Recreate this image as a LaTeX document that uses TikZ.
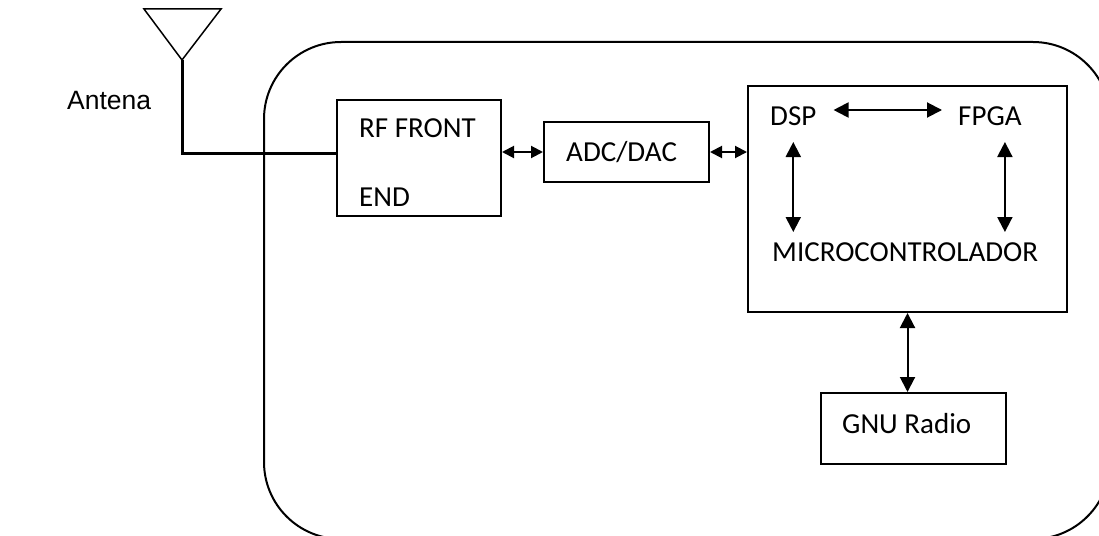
\documentclass[tikz,border=0pt]{standalone}
\usepackage{fontspec}
\setmainfont{Carlito}
\newfontfamily\arialfont{Liberation Sans}
\usetikzlibrary{arrows.meta}
\tikzset{
  box/.style={draw, line width=2pt, inner sep=0pt},
  lbl/.style={inner sep=0pt, anchor=base west, font=\fontsize{29}{33}\selectfont},
  dbl/.style={line width=2pt, {Triangle[length=15pt,width=15pt]}-{Triangle[length=15pt,width=15pt]}},
  sdbl/.style={line width=2pt, {Triangle[length=12pt,width=12pt]}-{Triangle[length=12pt,width=12pt]}},
}
\begin{document}
\begin{tikzpicture}[x=1pt,y=-1pt]
\useasboundingbox (0,0) rectangle (1099,535);
\clip (0,0) rectangle (1099,535);
% outer rounded frame
\draw[line width=2pt, rounded corners=77pt] (264,42) rectangle (1110,539);
% antenna
\coordinate (tl) at (144,9);
\coordinate (tr) at (221,9);
\coordinate (apex) at (182,60);
\draw[line width=1.5pt, line join=miter] (tl) -- (tr) -- (apex) -- cycle;
\node[lbl, font=\arialfont\fontsize{26.5}{30}\selectfont] (antena) at (67,109) {Antena};
% boxes
\node[box, minimum width=164pt, minimum height=116pt] (rf) at (419,158) {};
\node[box, minimum width=165pt, minimum height=60pt] (adc) at (626.5,152) {};
\node[box, minimum width=319pt, minimum height=226pt] (proc) at (907.5,199) {};
\node[box, minimum width=185pt, minimum height=71pt] (gnu) at (913.5,428.5) {};
% texts
\node[lbl] (rf1) at (359,137) {RF FRONT};
\node[lbl] (rf2) at (359,206) {END};
\node[lbl] (adct) at (566,161) {ADC/DAC};
\node[lbl] (dsp) at (770,125) {DSP};
\node[lbl] (fpga) at (958,125) {FPGA};
\node[lbl] (micro) at (772,261) {MICROCONTROLADOR};
\node[lbl] (gnut) at (842,433) {GNU Radio};
% antenna stem
\draw[line width=3pt] (apex) |- ([yshift=5pt]rf.west);
% connectors
\draw[sdbl] (adc.west -| rf.east) -- (adc.west);
\draw[sdbl] (adc.east) -- (adc.east -| proc.west);
\draw[dbl] (proc.south) -- (proc.south |- gnu.north);
\draw[dbl] ([shift={(17,-15)}]dsp.base east) -- ([shift={(-16,-15)}]fpga.base west);
\draw[dbl] ([shift={(0,17)}]dsp.base) -- ([shift={(0,-29)}]dsp.base |- micro.base);
\draw[dbl] ([shift={(15,17)}]fpga.base) -- ([shift={(15,-29)}]fpga.base |- micro.base);
\end{tikzpicture}
\end{document}
